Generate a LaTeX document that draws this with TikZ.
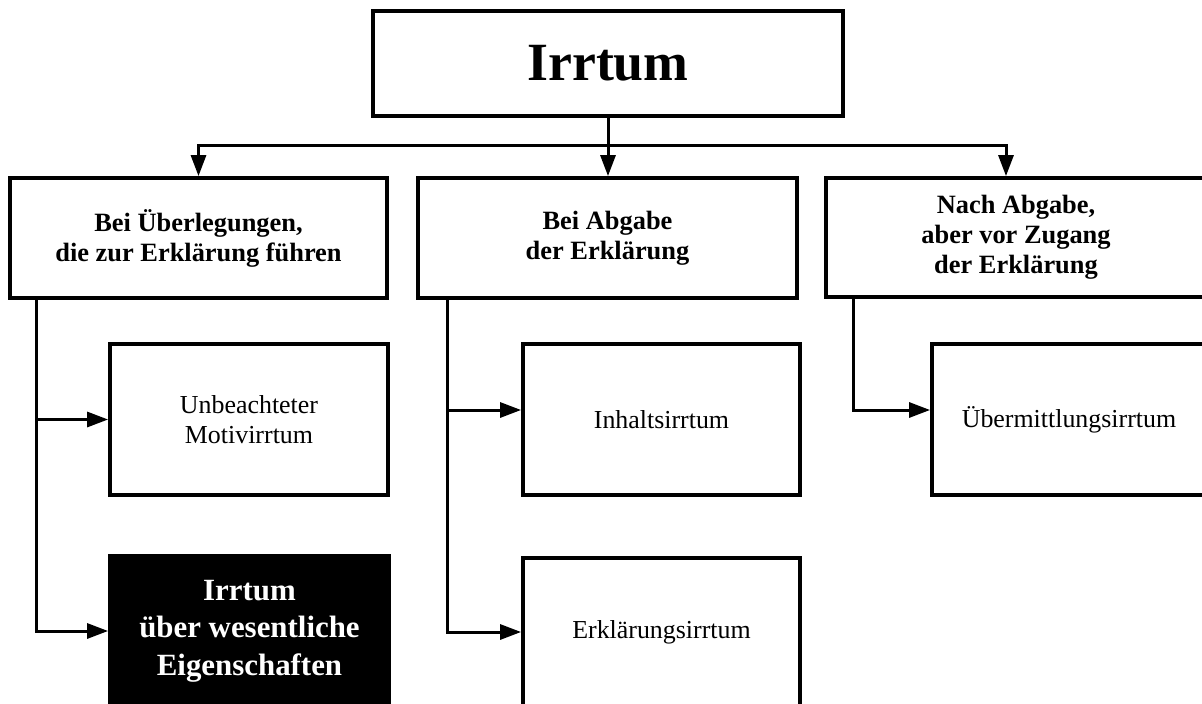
\documentclass[tikz,border=0pt]{standalone}
\usepackage{fontspec}
\setmainfont{Liberation Serif}
\usetikzlibrary{arrows.meta,calc}
\begin{document}
\begin{tikzpicture}[x=1bp,y=-1bp,
  box/.style={draw,line width=3.8bp,inner sep=0pt,align=center,anchor=center},
  hd/.style={box,font=\fontsize{26.5}{30}\selectfont\bfseries},
  leaf/.style={box,font=\fontsize{26}{30}\selectfont},
  conn/.style={line width=3bp},
  arr/.style={conn,-{Triangle[length=21bp,width=15bp]}}]
\useasboundingbox (0,0) rectangle (1202,704);
\fill[white] (0,0) rectangle (1202,704);

\node[box,minimum width=470bp,minimum height=105bp,font=\fontsize{54}{60}\selectfont\bfseries] (top) at (608,63.5) {Irrtum};
\node[hd,minimum width=377bp,minimum height=120bp] (b1) at (198.5,238) {Bei Überlegungen,\\die zur Erklärung führen};
\node[hd,minimum width=379bp,minimum height=120bp] (b2) at (607.5,238) {Bei Abgabe\\der Erklärung};
\node[hd,minimum width=380bp,minimum height=119bp] (b3) at (1016,237.5) {Nach Abgabe,\\aber vor Zugang\\der Erklärung};

\node[leaf,minimum width=278bp,minimum height=151bp] (u) at (249,419.5) {Unbeachteter\\Motivirrtum};
\node[box,fill=black,text=white,minimum width=279bp,minimum height=150bp,font=\fontsize{31}{37.5}\selectfont\bfseries] (w) at (249.5,631) {Irrtum\\über wesentliche\\Eigenschaften};
\node[leaf,minimum width=277bp,minimum height=151bp] (i) at (661.5,419.5) {Inhaltsirrtum};
\node[leaf,minimum width=277bp,minimum height=148bp] (e) at (661.5,632) {Erklärungsirrtum};
\node[leaf,minimum width=274bp,minimum height=151bp] (m) at (1069,419.5) {Übermittlungsirrtum};

\coordinate (j) at (608,146);
\draw[arr] (top.south) -- (top.south |- b2.north);
\draw[arr] (j) -| (b1.north);
\draw[arr] (j) -| ([xshift=181.9bp]b3.north west);

\coordinate (v1) at ([xshift=28.9bp]b1.south west);
\coordinate (v2) at ([xshift=30.9bp]b2.south west);
\coordinate (v3) at ([xshift=28.9bp]b3.south west);

\draw[arr] (v1) |- (w.west);
\draw[arr] (v1 |- u.west) -- (u.west);
\draw[arr] (v2) |- (e.west);
\draw[arr] ([yshift=9.5bp]i.west -| v2) -- ([yshift=9.5bp]i.west);
\draw[arr] (v3) |- ([yshift=9.5bp]m.west);
\end{tikzpicture}
\end{document}
